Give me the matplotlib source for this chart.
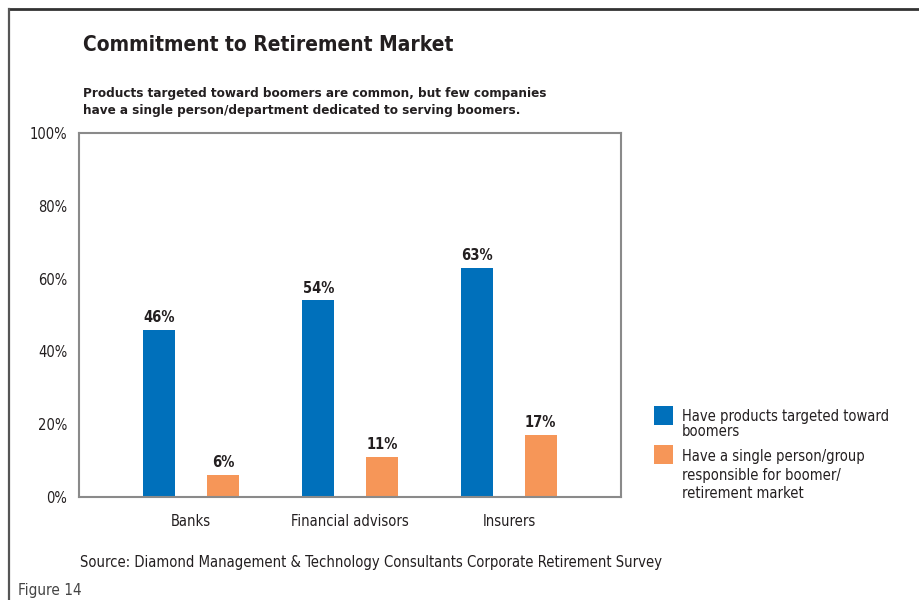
import matplotlib
matplotlib.use("Agg")
import matplotlib.pyplot as plt
from matplotlib.patches import Rectangle
from matplotlib import font_manager
import numpy as np

# Data
categories = ["Banks", "Financial advisors", "Insurers"]
products_targeted = [46, 54, 63]
single_person = [6, 11, 17]
series_labels = [
    "Have products targeted toward\nboomers",
    "Have a single person/group\nresponsible for boomer/\nretirement market",
]
yticks = [0, 20, 40, 60, 80, 100]
ytick_labels = ["0%", "20%", "40%", "60%", "80%", "100%"]

BLUE = "#0070BB"
ORANGE = "#F69658"
TEXT = "#231F20"

# Prefer a condensed sans face when one is installed
family, stretch = "Roboto", "normal"
for f in font_manager.fontManager.ttflist:
    st = str(f.stretch).lower()
    if st in ("condensed", "semi-condensed", "extra-condensed", "500", "600") or \
            "Condensed" in f.name or "Narrow" in f.name:
        if st not in ("normal", "400"):
            family, stretch = f.name, st
            if f.name.startswith("DejaVu") or "Liberation" in f.name:
                break
plt.rcParams["font.family"] = [family, "DejaVu Sans"]
plt.rcParams["font.stretch"] = stretch

W, H = 920, 600
fig = plt.figure(figsize=(W / 100, H / 100), dpi=100)
fig.patch.set_facecolor("white")


def fx(px):
    return px / W


def fy(py):
    return 1 - py / H


# Outer frame (top and left edges)
fig.add_artist(plt.Line2D([fx(9), fx(920)], [fy(9), fy(9)], color="#333333", lw=2.0,
                          transform=fig.transFigure))
fig.add_artist(plt.Line2D([fx(9), fx(9)], [fy(9), fy(600)], color="#555555", lw=1.6,
                          transform=fig.transFigure))

# Plot area
ax_left, ax_right, ax_top, ax_bottom = 79, 621, 133, 497
ax = fig.add_axes([fx(ax_left), fy(ax_bottom), fx(ax_right - ax_left), (ax_bottom - ax_top) / H])

x = np.arange(len(categories))
bw = 0.2
b1 = ax.bar(x - 0.2, products_targeted, width=bw, color=BLUE, zorder=2)
b2 = ax.bar(x + 0.2, single_person, width=bw, color=ORANGE, zorder=2)

for bars, vals in ((b1, products_targeted), (b2, single_person)):
    for rect, v in zip(bars, vals):
        ax.annotate(f"{v}%", (rect.get_x() + rect.get_width() / 2, v),
                    xytext=(0, 3.5), textcoords="offset points", ha="center", va="bottom",
                    fontsize=10.5, fontweight="bold", color=TEXT)

ax.set_xlim(-0.705, 2.705)
ax.set_ylim(0, 100)
ax.set_yticks(yticks)
ax.set_yticklabels(ytick_labels)
ax.set_xticks(x)
ax.set_xticklabels(categories)
ax.tick_params(axis="both", length=0, labelsize=10.5, colors=TEXT)
ax.tick_params(axis="y", pad=8.5)
ax.tick_params(axis="x", pad=12)
for s in ax.spines.values():
    s.set_color("#8A8A8A")
    s.set_linewidth(1.5)

# Titles
fig.text(fx(83), fy(45), "Commitment to Retirement Market", fontsize=15, fontweight="bold",
         color=TEXT, ha="left", va="center")
fig.text(fx(83), fy(102), "Products targeted toward boomers are common, but few companies\n"
         "have a single person/department dedicated to serving boomers.",
         fontsize=9.6, fontweight="bold", color=TEXT, ha="left", va="center", linespacing=1.4)

# Legend
leg_items = [(BLUE, series_labels[0], 406, 1.0, 3), (ORANGE, series_labels[1], 445, 1.3, 4)]
for color, label, top, ls, dy in leg_items:
    fig.add_artist(Rectangle((fx(654), fy(top + 19)), fx(19), 19 / H, facecolor=color,
                             edgecolor="none", transform=fig.transFigure))
    fig.text(fx(682), fy(top + dy), label, fontsize=10.5, color=TEXT, ha="left", va="top",
             linespacing=ls)

# Source and figure number
fig.text(fx(80), fy(562), "Source: Diamond Management & Technology Consultants Corporate Retirement Survey",
         fontsize=10.6, color=TEXT, ha="left", va="center")
fig.text(fx(18), fy(590), "Figure 14", fontsize=11, color="#444444", ha="left", va="center")

fig.savefig("out.png", dpi=100, facecolor="white")
